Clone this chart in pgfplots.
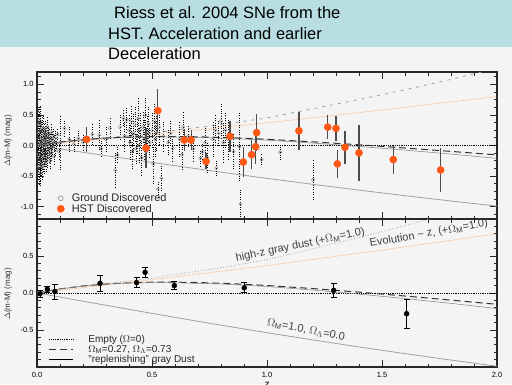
\documentclass[border=0pt]{standalone}
\usepackage{fontspec}
\setmainfont{Liberation Sans}
\usepackage{pgfplots}
\usepackage{pgfplotstable}
\pgfplotsset{compat=1.18}
\definecolor{bg}{HTML}{F4F4F4}
\definecolor{band}{RGB}{184,222,226}
\definecolor{hst}{RGB}{255,88,20}
\definecolor{evo}{RGB}{255,165,95}
\definecolor{dust}{RGB}{160,160,160}
\definecolor{eds}{RGB}{160,160,160}
\definecolor{frame}{RGB}{40,40,40}

\pgfplotstableread{
z y e
0.006 0.20 0.40
0.007 -0.15 0.40
0.008 0.35 0.30
0.009 -0.35 0.30
0.010 0.12 0.30
0.011 0.00 0.35
0.012 -0.20 0.30
0.013 0.40 0.25
0.014 0.05 0.28
0.015 -0.30 0.28
0.015 -0.45 0.20
0.016 0.25 0.27
0.017 -0.08 0.26
0.018 0.15 0.25
0.019 -0.25 0.25
0.020 0.02 0.24
0.021 0.30 0.23
0.022 -0.15 0.23
0.023 0.10 0.22
0.024 -0.35 0.22
0.025 0.20 0.22
0.026 -0.05 0.21
0.027 0.08 0.21
0.028 -0.22 0.20
0.029 0.28 0.20
0.030 -0.10 0.20
0.031 0.00 0.20
0.032 0.18 0.19
0.033 -0.30 0.19
0.034 0.12 0.19
0.035 -0.18 0.18
0.036 0.06 0.18
0.037 0.24 0.18
0.038 -0.12 0.17
0.039 0.04 0.17
0.040 -0.26 0.17
0.042 0.16 0.16
0.043 -0.03 0.16
0.044 0.30 0.16
0.045 -0.20 0.16
0.047 0.09 0.15
0.048 -0.08 0.15
0.050 0.20 0.15
0.052 -0.15 0.15
0.053 0.02 0.14
0.055 0.14 0.14
0.057 -0.25 0.14
0.058 0.07 0.14
0.060 -0.05 0.13
0.062 0.22 0.13
0.064 -0.12 0.13
0.066 0.10 0.13
0.068 -0.02 0.12
0.070 0.15 0.12
0.073 -0.18 0.12
0.075 0.05 0.12
0.078 0.12 0.12
0.081 -0.08 0.11
0.085 0.03 0.11
0.090 0.18 0.11
0.095 -0.10 0.12
0.100 0.04 0.45
0.120 0.28 0.15
0.140 0.10 0.20
0.160 0.02 0.12
0.180 0.12 0.15
0.200 0.05 0.12
0.240 0.18 0.18
0.270 0.17 0.25
0.280 -0.05 0.12
0.300 0.10 0.20
0.317 0.28 0.19
0.340 -0.40 0.30
0.350 -0.15 0.12
0.360 0.30 0.20
0.375 0.45 0.15
0.380 0.15 0.25
0.390 0.42 0.20
0.400 0.25 0.25
0.405 0.05 0.30
0.410 0.40 0.25
0.415 -0.10 0.30
0.420 0.20 0.35
0.425 0.35 0.30
0.430 -0.05 0.25
0.435 0.15 0.30
0.440 0.45 0.35
0.445 0.00 0.30
0.450 0.25 0.30
0.455 -0.20 0.30
0.460 0.30 0.25
0.465 0.10 0.35
0.470 0.50 0.30
0.475 -0.10 0.25
0.480 0.20 0.30
0.485 0.35 0.30
0.490 0.05 0.25
0.500 0.25 0.30
0.505 -0.30 0.35
0.510 0.40 0.30
0.515 0.10 0.30
0.520 0.20 0.30
0.525 -0.72 0.15
0.530 0.30 0.30
0.540 -0.53 0.20
0.550 0.15 0.25
0.570 0.05 0.20
0.580 0.20 0.20
0.590 -0.05 0.20
0.620 0.10 0.28
0.630 -0.15 0.25
0.635 0.30 0.25
0.657 0.15 0.18
0.680 -0.05 0.20
0.710 -0.21 0.12
0.720 -0.10 0.15
0.730 0.05 0.25
0.740 -0.20 0.25
0.765 0.10 0.30
0.775 0.25 0.25
0.780 -0.37 0.12
0.790 0.20 0.20
0.800 0.40 0.30
0.810 0.05 0.35
0.820 0.25 0.30
0.830 0.10 0.35
0.855 -0.10 0.28
0.880 -0.02 0.55
0.885 -0.96 0.25
0.977 -0.23 0.10
1.057 -0.11 0.13
1.200 -0.56 0.33
}\groundtab

\pgfplotstableread{
z y e
0.216 0.10 0.20
0.474 -0.04 0.32
0.525 0.57 0.35
0.640 0.09 0.18
0.670 0.09 0.17
0.735 -0.26 0.13
0.839 0.15 0.25
0.897 -0.27 0.24
0.933 -0.15 0.24
0.951 -0.02 0.28
0.955 0.21 0.30
1.139 0.24 0.31
1.264 0.30 0.20
1.300 0.28 0.20
1.306 -0.30 0.23
1.339 -0.03 0.27
1.400 -0.12 0.46
1.549 -0.23 0.23
1.755 -0.40 0.36
}\hsttab

\pgfplotstableread{
z y e
0.013 -0.01 0.045
0.045 0.05 0.045
0.078 0.02 0.10
0.274 0.13 0.11
0.433 0.14 0.067
0.470 0.28 0.067
0.597 0.10 0.058
0.901 0.07 0.067
1.290 0.035 0.10
1.607 -0.28 0.20
}\bintab

\pgfplotstableread{
z y
0.0 0.0
0.05 0.029
0.1 0.055
0.2 0.0948
0.3 0.1218
0.4 0.1382
0.5 0.146
0.6 0.1467
0.7 0.1416
0.8 0.1317
0.9 0.118
1.0 0.101
1.2 0.0598
1.4 0.0117
1.6 -0.0409
1.8 -0.0963
2.0 -0.153
}\lcdm

\pgfplotstableread{
z y
0.0 0.0
0.1 -0.0548
0.2 -0.1103
0.3 -0.1657
0.4 -0.2209
0.5 -0.2756
0.6 -0.3295
0.8 -0.4349
1.0 -0.5366
1.2 -0.6345
1.4 -0.7286
1.6 -0.8191
1.8 -0.906
2.0 -0.9896
}\eds

\pgfplotstableread{
z y
0.0 0.0
0.1 0.055
0.2 0.094
0.3 0.12
0.4 0.135
0.5 0.14
0.6 0.138
0.8 0.122
1.0 0.088
1.2 0.04
1.4 -0.015
1.6 -0.075
1.8 -0.14
2.0 -0.21
}\repl

\pgfplotstableread{
z y
0.0 0.0
0.1 0.055
0.2 0.095
0.3 0.125
0.4 0.165
0.5 0.20
0.6 0.25
0.8 0.34
1.0 0.45
1.2 0.60
1.4 0.75
1.6 0.91
1.8 1.08
2.0 1.26
}\graydust

\pgfplotstableread{
z y
0.0 0.0
0.5 0.18
1.0 0.37
1.5 0.58
2.0 0.80
}\evol

\pgfplotsset{
  panel/.style={
    scale only axis, width=460pt, xmin=0, xmax=2,
    xtick={0,0.5,1,1.5,2}, minor x tick num=4,
    tick align=inside,
    axis line style={line width=1.1pt, frame},
    every tick/.style={frame, line width=0.7pt},
    major tick length=7pt, minor tick length=3.5pt,
    ticklabel style={font=\fontsize{7.5}{8}\selectfont},
    /pgf/number format/assume math mode=true,
    /pgf/number format/fixed,
    /pgf/number format/fixed zerofill,
    /pgf/number format/precision=1,
    anchor=south west,
    legend cell align=left,
  },
  ground/.style={only marks, mark=o, mark size=1.6pt, mark options={gray, line width=0.4pt},
    error bars/.cd, y dir=both, y explicit, error mark=none,
    error bar style={black, dotted, line width=0.5pt}},
}

\begin{document}
\begin{tikzpicture}
\path[use as bounding box] (0pt,0pt) rectangle (512pt,384pt);
\fill[bg] (0pt,0pt) rectangle (512pt,384pt);
\fill[band] (0pt,337.3pt) rectangle (512pt,384pt);
\node[anchor=base west, inner sep=0pt, font=\fontsize{16.5}{18}\selectfont] at (114pt,365pt) {Riess et al. 2004 SNe from the};
\node[anchor=base west, inner sep=0pt, font=\fontsize{16.5}{18}\selectfont] at (108pt,344.7pt) {HST. Acceleration and earlier};
\node[anchor=base west, inner sep=0pt, font=\fontsize{16.5}{18}\selectfont] at (108pt,324.7pt) {Deceleration};

% ---------- top panel ----------
\begin{axis}[panel, at={(37pt,165pt)}, height=147pt,
  ymin=-1.2, ymax=1.2, ytick={-1.5,-1,-0.5,0,0.5,1,1.5}, minor y tick num=3,
  xticklabels={},
  legend style={at={(axis cs:0.072,-0.74)}, anchor=north west, draw=none, fill=none,
    font=\fontsize{11}{11}\selectfont, row sep=0pt, text=black!85,
    nodes={inner sep=1pt, text height=7.5pt, text depth=1pt}},
  legend image code/.code={\draw[#1] plot coordinates {(4pt,0pt)}; \path[draw=none, fill=none] (0pt,-3pt) rectangle (14pt,3pt);},
]
\addlegendimage{only marks, mark=o, mark size=2.4pt, mark options={gray, line width=0.5pt}}
\addlegendentry{Ground Discovered}
\addlegendimage{only marks, mark=*, mark size=3.6pt, hst}
\addlegendentry{HST Discovered}
\addplot[forget plot, evo, densely dotted, line width=0.7pt] table[x=z,y=y]{\evol};
\addplot[forget plot, dust, dash pattern=on 3pt off 5pt, line width=0.8pt] table[x=z,y=y]{\graydust};
\addplot[forget plot, eds, line width=0.8pt] table[x=z,y=y]{\eds};
\addplot[forget plot, ground] table[x=z,y=y,y error=e]{\groundtab};
\addplot[forget plot, black, densely dotted, line width=0.8pt] coordinates {(0,0) (2,0)};
\addplot[forget plot, gray, line width=0.5pt] table[x=z,y=y]{\repl};
\addplot[forget plot, black!80, dash pattern=on 7pt off 4pt, line width=1pt] table[x=z,y=y]{\lcdm};
\addplot[forget plot, only marks, mark=*, mark size=3.6pt, hst, mark options={draw=hst, fill=hst},
  error bars/.cd, y dir=both, y explicit, error mark=none,
  error bar style={black!70, line width=1.2pt, solid}] table[x=z,y=y,y error=e]{\hsttab};
\end{axis}

% ---------- bottom panel ----------
\begin{axis}[panel, at={(37pt,17pt)}, height=148pt,
  ymin=-1, ymax=1, ytick={-1,-0.5,0,0.5,1}, yticklabels={,-0.5,0.0,0.5,}, minor y tick num=4,
  xticklabel style={yshift=-2pt},
  legend style={at={(axis cs:0.038,-0.535)}, anchor=north west, draw=none, fill=none,
    font=\fontsize{10}{10}\selectfont, row sep=0pt, text=black!85,
    nodes={inner sep=1pt, text height=6.8pt, text depth=1pt}},
  legend image code/.code={\draw[#1] (0pt,0pt) -- (24pt,0pt); \path[draw=none, fill=none] (0pt,0pt) -- (38pt,0pt);},
]
\addplot[black, densely dotted, line width=0.8pt] coordinates {(0,0) (2,0)};
\addlegendentry{Empty ($\Omega$=0)}
\addplot[black!80, dash pattern=on 7pt off 4pt, line width=1pt] table[x=z,y=y]{\lcdm};
\addlegendentry{$\Omega_{\mathrm{M}}$=0.27, $\Omega_\Lambda$=0.73}
\addlegendimage{black, line width=0.8pt}
\addlegendentry{"replenishing" gray Dust}
\addplot[forget plot, evo, densely dotted, line width=0.7pt] table[x=z,y=y]{\evol};
\addplot[forget plot, dust, dotted, line width=0.8pt] table[x=z,y=y]{\graydust};
\addplot[forget plot, eds, line width=0.8pt] table[x=z,y=y]{\eds};
\addplot[forget plot, gray, line width=0.5pt] table[x=z,y=y]{\repl};
\addplot[forget plot, only marks, mark=*, mark size=2.5pt, black,
  error bars/.cd, y dir=both, y explicit,
  error mark options={rotate=90, mark size=3pt, line width=0.8pt},
  error bar style={black, line width=0.9pt}] table[x=z,y=y,y error=e]{\bintab};
\node[rotate=12, font=\fontsize{11}{11}\selectfont, text=black!75] at (axis cs:1.145,0.645) {high-z gray dust (+$\Omega_{\mathrm{M}}$=1.0)};
\node[rotate=10, font=\fontsize{11}{11}\selectfont, text=black!75] at (axis cs:1.704,0.80) {Evolution \textasciitilde\ z, (+$\Omega_{\mathrm{M}}$=1.0)};
\node[rotate=-11, font=\fontsize{11}{11}\selectfont, text=black!75] at (axis cs:1.17,-0.50) {$\Omega_{\mathrm{M}}$=1.0, $\Omega_\Lambda$=0.0};
\end{axis}

\node[rotate=90, font=\fontsize{8}{8}\selectfont, text=black!80] at (8pt,243pt) {$\Delta$(m-M) (mag)};
\node[rotate=90, font=\fontsize{8}{8}\selectfont, text=black!80] at (8pt,90pt) {$\Delta$(m-M) (mag)};
\node[anchor=north, inner sep=0pt, font=\fontsize{10}{10}\selectfont] at (267pt,1.5pt) {z};
\end{tikzpicture}
\end{document}
